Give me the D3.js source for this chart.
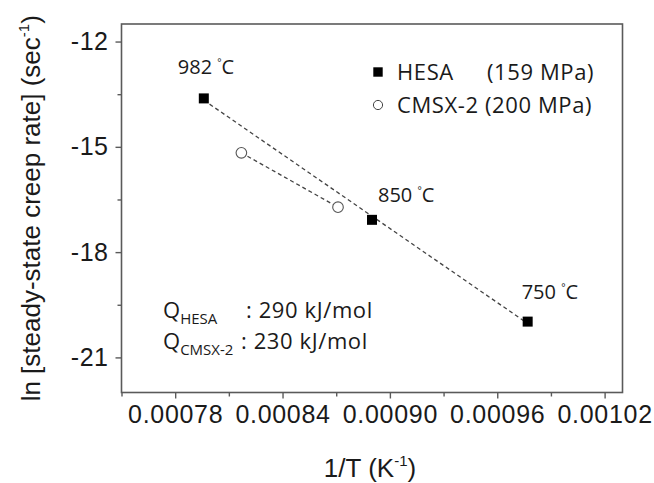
<!DOCTYPE html>
<html>
<head>
<meta charset="utf-8">
<script src="https://cdn.jsdelivr.net/npm/d3@7"></script>
<style>
  body { margin: 0; background: #fff; }
  text { fill: #1a1a1a; }
</style>
</head>
<body>
<svg id="chart" width="654" height="483"></svg>
<script>
const svg = d3.select("#chart");

// plot box
const LEFT = 121.5, RIGHT = 622.5, TOP = 24, BOTTOM = 392.5;

const xscale = d3.scaleLinear().domain([0.00075, 0.00103]).range([LEFT, RIGHT]);
const yscale = d3.scaleLinear().domain([-22, -11.5]).range([BOTTOM, TOP]);

// data
const hesaX = [0.000796, 0.000890, 0.000977];
const hesaY = [-13.62, -17.08, -19.98];
const hesaTemps = ["982", "850", "750"];
const cmsxX = [0.000817, 0.000871];
const cmsxY = [-15.17, -16.72];

const xTicks = [0.00078, 0.00084, 0.00090, 0.00096, 0.00102];
const xTickLabels = ["0.00078", "0.00084", "0.00090", "0.00096", "0.00102"];
const xMinor = [0.00075, 0.00081, 0.00087, 0.00093, 0.00099];
const yTicks = [-12, -15, -18, -21];
const yMinor = [-13.5, -16.5, -19.5];

const AXIS_COLOR = "#5a5a5a";
const LINE_COLOR = "#444";
const AXIS_FONT = "'Liberation Sans', Arial, sans-serif";
const TEXT_FONT = "'Open Sans', sans-serif";

const hesa = hesaX.map((x, i) => ({ x: x, y: hesaY[i], t: hesaTemps[i] }));
const cmsx = cmsxX.map((x, i) => ({ x: x, y: cmsxY[i] }));

function linearFit(pts) {
    const mx = d3.mean(pts, d => d.x), my = d3.mean(pts, d => d.y);
    let sxy = 0, sxx = 0;
    for (let p of pts) {
        sxy += (p.x - mx) * (p.y - my);
        sxx += (p.x - mx) * (p.x - mx);
    }
    const b = sxy / sxx;
    return x => my + b * (x - mx);
}

function drawAxes() {
    // frame
    svg.append("rect")
        .attr("x", LEFT).attr("y", TOP)
        .attr("width", RIGHT - LEFT).attr("height", BOTTOM - TOP)
        .attr("fill", "none")
        .attr("stroke", AXIS_COLOR)
        .attr("stroke-width", 1.6);

    const xAxis = svg.append("g")
        .attr("transform", `translate(0,${BOTTOM})`)
        .call(d3.axisBottom(xscale).tickValues(xTicks)
            .tickFormat((d, i) => xTickLabels[i]).tickSize(6).tickPadding(7));
    xAxis.select(".domain").remove();
    xAxis.selectAll("line").attr("stroke", AXIS_COLOR).attr("stroke-width", 1.4);
    xAxis.selectAll("text")
        .style("font-family", AXIS_FONT).style("font-size", "25px")
        .style("letter-spacing", "0.7px").attr("fill", "#1a1a1a");

    svg.append("g")
        .attr("transform", `translate(0,${BOTTOM})`)
        .call(d3.axisBottom(xscale).tickValues(xMinor).tickFormat("").tickSize(4))
        .call(g => g.select(".domain").remove())
        .selectAll("line").attr("stroke", AXIS_COLOR).attr("stroke-width", 1.4);

    const yAxis = svg.append("g")
        .attr("transform", `translate(${LEFT},0)`)
        .call(d3.axisLeft(yscale).tickValues(yTicks)
            .tickFormat(d => String(d)).tickSize(6).tickPadding(7));
    yAxis.select(".domain").remove();
    yAxis.selectAll("line").attr("stroke", AXIS_COLOR).attr("stroke-width", 1.4);
    yAxis.selectAll("text")
        .style("font-family", AXIS_FONT).style("font-size", "25px")
        .style("letter-spacing", "0.5px").attr("fill", "#1a1a1a");

    svg.append("g")
        .attr("transform", `translate(${LEFT},0)`)
        .call(d3.axisLeft(yscale).tickValues(yMinor).tickFormat("").tickSize(4))
        .call(g => g.select(".domain").remove())
        .selectAll("line").attr("stroke", AXIS_COLOR).attr("stroke-width", 1.4);

    // axis titles
    const xt = svg.append("text")
        .attr("x", (LEFT + RIGHT) / 2 - 2).attr("y", 477)
        .attr("text-anchor", "middle")
        .style("font-family", AXIS_FONT).style("font-size", "26px");
    xt.append("tspan").text("1/T (K");
    xt.append("tspan").attr("dy", -11).style("font-size", "15px").text("-1");
    xt.append("tspan").attr("dy", 11).text(")");

    const yt = svg.append("text")
        .attr("transform", `translate(40,${(TOP + BOTTOM) / 2}) rotate(-90)`)
        .attr("text-anchor", "middle")
        .style("font-family", AXIS_FONT).style("font-size", "26px");
    yt.append("tspan").text("ln [steady-state creep rate] (sec");
    yt.append("tspan").attr("dy", -11).style("font-size", "15px").text("-1");
    yt.append("tspan").attr("dy", 11).text(")");
}

function drawSeries() {
    const fit = linearFit(hesa);
    const x0 = hesa[0].x, x1 = hesa[hesa.length - 1].x;
    svg.append("line")
        .attr("x1", xscale(x0)).attr("y1", yscale(fit(x0)))
        .attr("x2", xscale(x1)).attr("y2", yscale(fit(x1)))
        .attr("stroke", LINE_COLOR)
        .attr("stroke-width", 1.3)
        .attr("stroke-dasharray", "4,3");

    svg.append("path")
        .datum(cmsx)
        .attr("d", d3.line().x(d => xscale(d.x)).y(d => yscale(d.y)))
        .attr("fill", "none")
        .attr("stroke", LINE_COLOR)
        .attr("stroke-width", 1.3)
        .attr("stroke-dasharray", "4,3");

    const SQ = 10;
    svg.selectAll(".hesa").data(hesa).join("rect")
        .attr("class", "hesa")
        .attr("x", d => xscale(d.x) - SQ / 2)
        .attr("y", d => yscale(d.y) - SQ / 2)
        .attr("width", SQ).attr("height", SQ)
        .attr("fill", "#000");

    svg.selectAll(".cmsx").data(cmsx).join("circle")
        .attr("class", "cmsx")
        .attr("cx", d => xscale(d.x))
        .attr("cy", d => yscale(d.y))
        .attr("r", 5.3)
        .attr("fill", "#fff")
        .attr("stroke", "#555")
        .attr("stroke-width", 1.1);

    // temperature labels
    const offsets = [[-26, -24], [6, -18], [-6, -23]];
    hesa.forEach((d, i) => {
        const t = svg.append("text")
            .attr("x", xscale(d.x) + offsets[i][0])
            .attr("y", yscale(d.y) + offsets[i][1])
            .style("font-family", TEXT_FONT).style("font-size", "20px");
        t.append("tspan").text(d.t + " ");
        t.append("tspan").attr("dy", -8).style("font-size", "10px").text("°");
        t.append("tspan").attr("dy", 8).text("C");
    });
}

function drawLegend() {
    const lx = 378, ly = [72, 105];
    svg.append("rect")
        .attr("x", lx - 4.7).attr("y", ly[0] - 4.7)
        .attr("width", 9.4).attr("height", 9.4)
        .attr("fill", "#000");
    svg.append("circle")
        .attr("cx", lx).attr("cy", ly[1]).attr("r", 4.6)
        .attr("fill", "#fff").attr("stroke", "#444").attr("stroke-width", 1);

    const text = (x, y, s) => svg.append("text")
        .attr("x", x).attr("y", y)
        .style("font-family", TEXT_FONT).style("font-size", "22px")
        .style("letter-spacing", "0.6px")
        .text(s);
    text(397, 80, "HESA");
    text(487, 80, "(159 MPa)");
    text(397, 113, "CMSX-2 (200 MPa)");
}

function drawEnergies() {
    const q = (y, sub, cx, val) => {
        const t = svg.append("text")
            .attr("x", 163).attr("y", y)
            .style("font-family", TEXT_FONT).style("font-size", "22px");
        t.append("tspan").text("Q");
        t.append("tspan").attr("dy", 6).style("font-size", "15px").text(sub);
        svg.append("text")
            .attr("x", cx).attr("y", y)
            .style("font-family", TEXT_FONT).style("font-size", "22px")
            .style("letter-spacing", "0.6px")
            .text(": " + val);
    };
    q(318, "HESA", 246, "290 kJ/mol");
    q(349, "CMSX-2", 241, "230 kJ/mol");
}

drawAxes();
drawSeries();
drawLegend();
drawEnergies();
</script>
</body>
</html>
